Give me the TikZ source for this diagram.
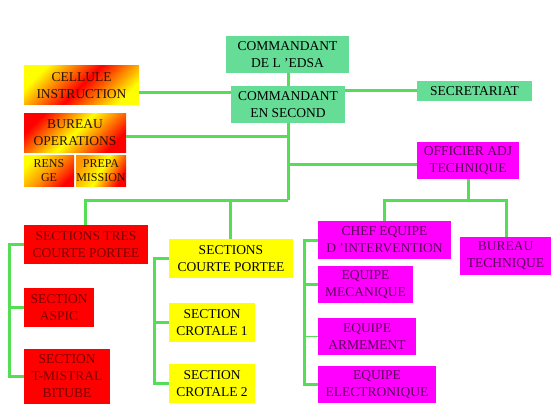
\documentclass[tikz,border=0pt]{standalone}
\usepackage{fontspec}
\setmainfont{Liberation Serif}
\usetikzlibrary{calc}
\definecolor{boxgreen}{RGB}{102,221,150}
\definecolor{linegreen}{RGB}{85,222,85}
\definecolor{txtred}{RGB}{120,0,0}
\definecolor{txtpurple}{RGB}{90,0,90}
\definecolor{txtdark}{RGB}{40,20,0}
\definecolor{mag}{RGB}{255,0,255}
\definecolor{yel}{RGB}{255,255,0}
\definecolor{rd}{RGB}{255,0,0}
\definecolor{org}{RGB}{255,150,0}
\tikzset{
  box/.style={rectangle, inner sep=0pt, align=center, font=\fontsize{13.5}{17}\selectfont},
  gbox/.style={box, fill=boxgreen, text=black},
  rbox/.style={box, fill=rd, text=txtred},
  ybox/.style={box, fill=yel, text=black},
  mbox/.style={box, fill=mag, text=txtpurple},
  obox/.style={box, text=txtdark},
  conn/.style={draw=linegreen, line width=3pt},
  thinconn/.style={draw=linegreen, line width=1pt}
}
\begin{document}
\begin{tikzpicture}[x=1pt,y=-1pt]
\useasboundingbox (0,0) rectangle (560,420);
\fill[white] (0,0) rectangle (560,420);
% nodes
\node[gbox, minimum width=123pt, minimum height=37pt] (cmd) at (287.5,54.5) {COMMANDANT\\DE L 'EDSA};
\node[gbox, minimum width=114pt, minimum height=37pt] (sec2) at (288,104.5) {COMMANDANT\\EN SECOND};
\node[gbox, minimum width=115pt, minimum height=20pt] (secr) at (474.5,91) {SECRETARIAT};
\node[obox, minimum width=115pt, minimum height=39pt, shading=axis, top color=yel, bottom color=yel, middle color=rd, shading angle=45] (cell) at (81.5,85.5) {CELLULE\\INSTRUCTION};
\node[obox, minimum width=102pt, minimum height=39pt, shading=axis, top color=rd, bottom color=rd, middle color=yel, shading angle=45] (bur) at (75,132.5) {BUREAU\\OPERATIONS};
\node[obox, minimum width=50pt, minimum height=31pt, shading=axis, top color=yel, bottom color=rd, middle color=org, shading angle=45, font=\fontsize{12}{14.5}\selectfont] (rens) at (49,170.5) {RENS\\GE};
\node[obox, minimum width=50pt, minimum height=31pt, shading=axis, top color=org, bottom color=rd, middle color=yel, shading angle=60, font=\fontsize{12}{14.5}\selectfont] (prepa) at (101,170.5) {PREPA\\MISSION};
\node[mbox, minimum width=102pt, minimum height=37pt] (off) at (468,160.5) {OFFICIER ADJ\\TECHNIQUE};
\node[rbox, minimum width=124pt, minimum height=39pt] (stcp) at (86,244.5) {SECTIONS TRES\\COURTE PORTEE};
\node[rbox, minimum width=70pt, minimum height=39pt] (aspic) at (59,307.5) {SECTION\\ASPIC};
\node[rbox, minimum width=86pt, minimum height=55pt] (mistral) at (67,376.5) {SECTION\\T-MISTRAL\\BITUBE};
\node[ybox, minimum width=124pt, minimum height=39pt] (scp) at (231,258.5) {SECTIONS\\COURTE PORTEE};
\node[ybox, minimum width=86pt, minimum height=39pt] (cr1) at (212,322.5) {SECTION\\CROTALE 1};
\node[ybox, minimum width=86pt, minimum height=39pt] (cr2) at (212,383.5) {SECTION\\CROTALE 2};
\node[mbox, minimum width=133pt, minimum height=38pt] (chef) at (384.5,240) {CHEF EQUIPE\\D 'INTERVENTION};
\node[mbox, minimum width=95pt, minimum height=37pt] (meca) at (365.5,284.5) {EQUIPE\\MECANIQUE};
\node[mbox, minimum width=98pt, minimum height=37pt] (arm) at (367,336.5) {EQUIPE\\ARMEMENT};
\node[mbox, minimum width=118pt, minimum height=37pt] (elec) at (377,384.5) {EQUIPE\\ELECTRONIQUE};
\node[mbox, minimum width=91pt, minimum height=38pt] (bt) at (505.5,256) {BUREAU\\TECHNIQUE};
% junction coordinates
\coordinate (trunkend) at (288,200);
\coordinate (leftend) at (85,200);
\coordinate (midj) at (230,200);
\coordinate (tj) at (468,200);
\coordinate (tl) at (384,200);
\coordinate (tr) at (506,200);
\coordinate (b1top) at (9,244.5);
\coordinate (b1bot) at (9,376.5);
\coordinate (b2top) at (154,258.5);
\coordinate (b2bot) at (154,383.5);
\coordinate (b3top) at (304,240);
\coordinate (b3bot) at (304,384.5);
% connectors
\draw[conn] (cmd.south -| sec2.north) -- (sec2.north);
\draw[conn] ([yshift=-7.5pt]cell.east) -- ([yshift=-7.5pt]cell.east -| sec2.west);
\draw[conn] (secr.west) -- (secr.west -| sec2.east);
\draw[conn] (sec2.south) -- (trunkend);
\draw[conn] ([yshift=-3.5pt]bur.east) -- ([yshift=-3.5pt]bur.east -| trunkend);
\draw[conn] ([yshift=-3.5pt]off.west) -- ([yshift=-3.5pt]off.west -| trunkend);
\draw[conn] (trunkend) -- (leftend) -- (leftend |- stcp.north);
\draw[conn] (midj) -- (midj |- scp.north);
\draw[conn] (off.south) -- (tj);
\draw[conn] (tl |- chef.north) -- (tl) -- (tr) -- (tr |- bt.north);
\draw[conn] (stcp.west) -- (b1top) -- (b1bot) -- (mistral.west);
\draw[conn] (b1top |- aspic.west) -- (aspic.west);
\draw[conn] (scp.west) -- (b2top) -- (b2bot) -- (cr2.west);
\draw[conn] (b2top |- cr1.west) -- (cr1.west);
\draw[conn] (chef.west) -- (b3top) -- (b3bot) -- (elec.west);
\draw[conn] (b3top |- meca.west) -- (meca.west);
\draw[thinconn] (b3top |- arm.west) -- (arm.west);
\end{tikzpicture}
\end{document}
